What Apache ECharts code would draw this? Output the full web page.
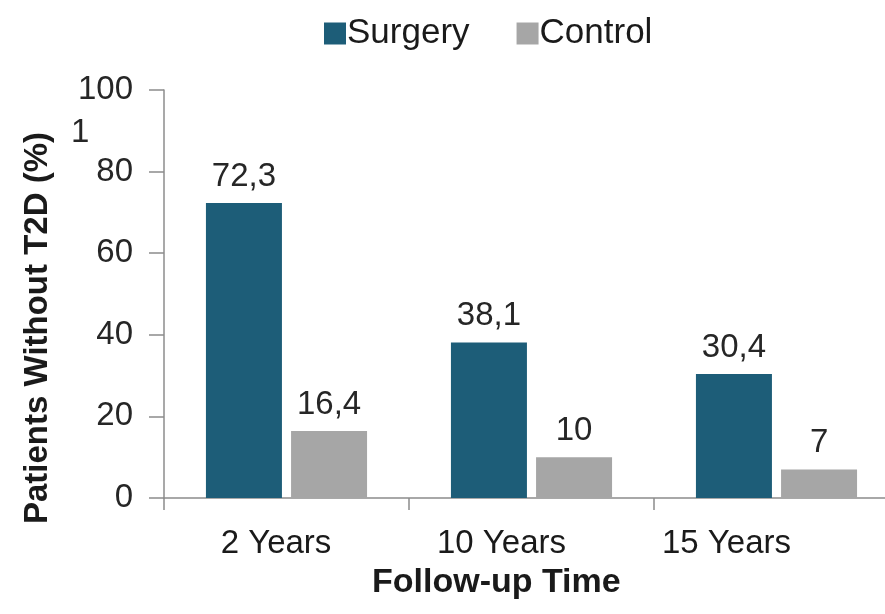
<!DOCTYPE html>
<html>
<head>
<meta charset="utf-8">
<script src="https://cdn.jsdelivr.net/npm/echarts@6/dist/echarts.min.js"></script>
<style>
  html, body { margin: 0; padding: 0; background: #fff; }
  #box { width: 885px; height: 614px; }
</style>
</head>
<body>
<div id="box"></div>
<script>
const categories = ['2 Years', '10 Years', '15 Years'];
const surgery = [72.3, 38.1, 30.4];
const control = [16.4, 10, 7];
const yTicks = [0, 20, 40, 60, 80, 100];

// the category labels sit a little left of their bar groups in the original
const labelShiftPad = [21, 60, 100];

const fmt = (p) => String(p.value).replace('.', ',');

const label = {
  show: true,
  position: 'top',
  distance: 10,
  fontFamily: 'Arial, Liberation Sans',
  fontSize: 33,
  color: '#262626',
  formatter: fmt
};

const chart = echarts.init(document.getElementById('box'));
chart.setOption({
  animation: false,
  backgroundColor: '#fff',
  textStyle: { fontFamily: 'Arial, Liberation Sans' },
  legend: {
    top: 11,
    left: 319,
    itemWidth: 22,
    itemHeight: 22,
    itemGap: 47,
    icon: 'rect',
    textStyle: { fontSize: 35, color: '#1a1a1a', padding: [0, 0, 0, -4] },
    data: ['Surgery', 'Control']
  },
  grid: { left: 164, width: 735, top: 90, bottom: 116, outerBoundsMode: 'none' },
  xAxis: {
    type: 'category',
    data: categories.map((c, i) => ({
      value: c,
      textStyle: { padding: [0, labelShiftPad[i], 0, 0] }
    })),
    axisLine: { lineStyle: { color: '#8c8c8c', width: 1.5 } },
    axisTick: { show: true, alignWithLabel: false, length: 12, lineStyle: { color: '#8c8c8c', width: 1.5 } },
    axisLabel: { fontSize: 33, color: '#1a1a1a', margin: 29 }
  },
  yAxis: {
    type: 'value',
    min: yTicks[0],
    max: yTicks[yTicks.length - 1],
    interval: 20,
    axisLine: { show: true, lineStyle: { color: '#8c8c8c', width: 1.5 } },
    axisTick: { show: true, inside: false, length: 15, lineStyle: { color: '#8c8c8c', width: 1.5 } },
    axisLabel: { fontSize: 33, color: '#262626', margin: 31 },
    splitLine: { show: false }
  },
  graphic: [
    {
      type: 'text',
      x: 38,
      y: 328,
      rotation: Math.PI / 2,
      style: {
        text: 'Patients Without T2D (%)',
        fontSize: 33,
        fontWeight: 'bold',
        fill: '#1a1a1a',
        fontFamily: 'Arial, Liberation Sans',
        align: 'center',
        verticalAlign: 'middle'
      }
    },
    {
      type: 'text',
      left: 71,
      top: 116,
      style: { text: '1', fontSize: 33, fill: '#262626', fontFamily: 'Arial, Liberation Sans' }
    },
    {
      type: 'text',
      left: 372,
      top: 566,
      style: { text: 'Follow-up Time', fontSize: 34, fontWeight: 'bold', fill: '#1a1a1a', fontFamily: 'Arial, Liberation Sans' }
    }
  ],
  series: [
    {
      name: 'Surgery',
      type: 'bar',
      data: surgery,
      barWidth: 76,
      barGap: '12%',
      itemStyle: { color: '#1d5d78' },
      label: label
    },
    {
      name: 'Control',
      type: 'bar',
      data: control,
      barWidth: 76,
      itemStyle: { color: '#a6a6a6' },
      label: label
    }
  ]
});
</script>
</body>
</html>
